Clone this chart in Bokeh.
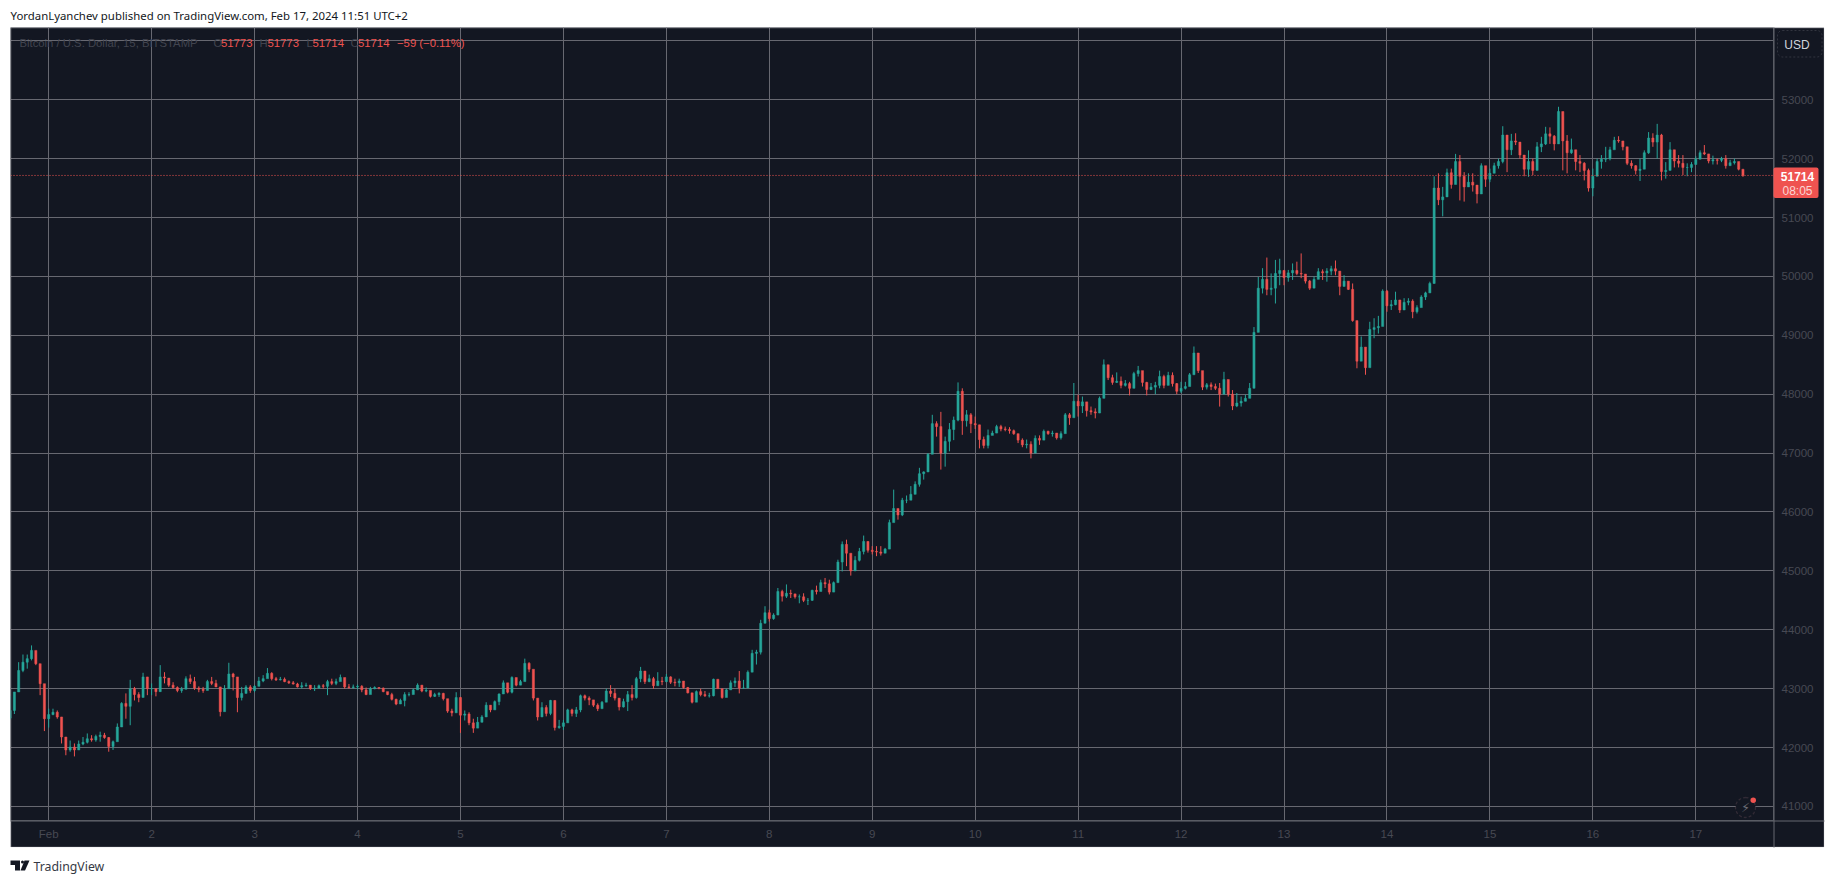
from bokeh.plotting import figure
from bokeh.layouts import column
from bokeh.embed import file_html
from bokeh.resources import INLINE
from bokeh.models import (ColumnDataSource, FixedTicker, Range1d, Span, Label,
                          BoxAnnotation, PolyAnnotation)

# hourly candles, first one at 15:00 on 31 Jan, day numbers are February dates
first_day = 0 + 15 / 24
first_open = 42500
day_ticks = list(range(1, 18))
day_labels = {d: str(d) for d in day_ticks}
day_labels[1] = "Feb"
price_ticks = list(range(41000, 55000, 1000))
price_labels = {p: str(p) for p in price_ticks}
price_labels[54000] = ""
last_price = 51714

closes = [
 42630,42945,43310,43450,43510,43650,43425,43085,42490,
 42560,42600,42520,42180,41960,42010,41960,42060,42090,42150,42130,42190,42210,42170,42020,42100,42350,42750,42700,43000,42900,42850,43200,43000,
 43000,42950,43200,43180,43060,43020,42970,42990,43170,43120,43010,42990,42970,43120,43090,43030,42610,43000,43250,43200,42850,42920,43030,42970,
 43040,43130,43170,43260,43170,43150,43160,43120,43100,43080,43030,43050,43060,43000,43010,43050,43040,43120,43090,43120,43190,43030,43020,43030,
 43040,42980,42900,43000,43020,43010,42950,42900,42820,42740,42800,42900,42900,42980,43060,42960,42970,42870,42900,42920,42830,42620,42590,42850,
 42550,42570,42420,42330,42430,42520,42720,42640,42780,42910,43100,42940,43190,43060,43120,43430,43330,42840,42520,42680,42580,42800,42340,42360,
 42420,42640,42580,42640,42880,42840,42810,42720,42660,42770,42960,42920,42840,42690,42780,42900,42850,43170,43300,43120,43170,43050,43130,43120,
 43200,43110,43100,43130,43020,42930,42770,42950,42900,42880,42880,43160,43000,42850,42980,43100,43130,43010,43010,43280,43600,43620,44110,44290,
 44190,44250,44650,44570,44620,44610,44560,44560,44500,44500,44670,44650,44800,44780,44640,44800,45150,45450,45300,45000,45180,45330,45500,45350,
 45330,45320,45300,45370,45820,46060,45950,46200,46200,46300,46470,46650,46680,46980,47500,47450,47000,47200,47400,47560,48050,47550,47650,47500,
 47480,47230,47130,47300,47340,47450,47410,47400,47380,47330,47220,47140,47150,47000,47250,47220,47370,47330,47340,47260,47330,47650,47600,47880,
 47800,47870,47720,47700,47680,47930,48500,48280,48200,48220,48150,48180,48100,48350,48400,48200,48080,48120,48150,48300,48150,48320,48180,48050,
 48100,48130,48330,48700,48400,48120,48160,48130,48100,48000,48250,48000,47800,47850,47880,47930,48100,49050,49800,49950,49780,49800,50050,50100,
 49980,50060,50100,50050,50040,49920,49800,49950,50080,50060,50090,50130,50090,49830,49920,49780,49250,48560,48800,48450,49100,49130,49150,49750,
 49500,49520,49600,49430,49560,49580,49400,49470,49650,49720,49880,51500,51300,51350,51760,51560,51950,51700,51520,51600,51550,51400,51880,51650,
 51750,51880,51950,52400,52150,52300,52280,52060,51820,51950,51800,52200,52250,52420,52380,52250,52800,52300,52100,52150,51950,51920,51800,51500,
 51700,51950,51990,52000,52150,52310,52300,52200,51920,51880,51800,51820,52100,52350,52280,52400,51780,51800,52150,51960,51920,51850,51850,51900,
 51990,52100,52080,51960,51980,51970,52000,51880,51930,51950,51820,51714,
]
highs = [
 42875,42940,43450,43580,43580,43735,43580,43395,42990,
 42660,42660,42630,42520,42040,42120,42070,42120,42180,42240,42210,42220,42270,42250,42180,42120,42410,42770,42920,43150,43030,42940,43270,43200,
 43090,43000,43400,43280,43170,43110,43040,43030,43210,43240,43200,43040,43030,43150,43200,43150,43030,43060,43440,43270,43140,43030,43060,43060,
 43060,43200,43230,43350,43280,43200,43200,43190,43140,43130,43100,43110,43100,43060,43060,43070,43080,43150,43170,43170,43240,43080,43080,43070,
 43070,43060,43020,43030,43040,43020,43020,42940,42930,42830,42830,42940,42940,43000,43090,43060,43020,42940,42930,42940,42930,42810,42660,42940,
 42860,42630,42600,42490,42520,42550,42770,42720,42800,42920,43140,43060,43210,43170,43150,43510,43450,43280,42800,42770,42720,42810,42800,42470,
 42470,42660,42660,42690,42900,42900,42870,42770,42750,42790,43000,43060,43000,42830,42830,42960,43060,43200,43370,43250,43240,43200,43280,43200,
 43250,43210,43170,43170,43110,43030,42890,42970,43000,42960,42930,43170,43150,42960,43000,43140,43190,43300,43150,43310,43660,43660,44170,44400,
 44340,44280,44710,44680,44770,44680,44600,44600,44620,44540,44680,44750,44850,44880,44850,44820,45190,45500,45530,45220,45250,45390,45600,45500,
 45420,45420,45420,45390,45870,46380,46040,46240,46280,46440,46520,46750,46690,47000,47650,47540,47700,47280,47510,47620,48200,48100,47730,47680,
 47620,47480,47280,47400,47380,47480,47480,47450,47440,47400,47310,47250,47230,47200,47300,47300,47400,47380,47380,47340,47370,47680,47680,48190,
 47990,47960,47820,47790,47760,47960,48590,48470,48330,48370,48300,48240,48210,48380,48480,48360,48210,48190,48210,48400,48330,48380,48370,48190,
 48210,48210,48360,48810,48550,48210,48190,48200,48180,48190,48380,48160,48070,48020,47960,47990,48190,49140,49990,50140,50320,50050,50280,50300,
 50110,50110,50220,50250,50390,50000,49940,50000,50140,50120,50140,50180,50270,50050,50020,49910,49880,49200,48980,48690,49230,49290,49330,49780,
 49770,49600,49740,49570,49630,49630,49610,49510,49680,49740,49910,51700,51750,51520,51830,51830,52080,52060,51770,51750,51750,51550,51920,51860,
 51830,51930,52000,52550,52200,52420,52430,52250,52060,52140,52000,52280,52370,52540,52530,52400,52880,52710,52400,52340,52080,52060,51940,51830,
 51830,52000,52060,52200,52200,52370,52380,52250,52170,51970,51890,52000,52140,52450,52430,52590,52420,51940,52280,52080,52060,52060,51920,51940,
 52040,52140,52230,52080,52050,52000,52030,52060,51980,52000,51920,51810,
]
lows = [
 42475,42570,43000,43280,43340,43480,43400,42890,42280,
 42340,42550,42490,42070,41870,41930,41850,41990,42040,42070,42100,42100,42100,42150,41930,41960,42150,42350,42490,42380,42800,42770,42860,42890,
 42890,42870,42950,43090,43030,43000,42940,42930,43000,43080,42980,42940,42930,43020,43060,43030,42530,42630,43030,42970,42600,42800,42940,42930,
 42940,43090,43110,43200,43140,43130,43140,43110,43080,43070,43020,43000,43030,42980,42960,43000,43000,42890,43060,43060,43140,43000,43000,43000,
 42990,42940,42890,42920,42990,42990,42940,42890,42800,42720,42770,42700,42870,42920,43020,42940,42940,42850,42860,42860,42800,42590,42530,42600,
 42250,42460,42380,42250,42360,42430,42550,42600,42660,42720,42920,42920,42920,43040,43060,43140,43280,42800,42460,42580,42530,42550,42290,42320,
 42300,42460,42530,42520,42600,42800,42720,42690,42620,42690,42800,42860,42800,42630,42680,42620,42800,42830,43110,43080,43110,43000,43080,43060,
 43110,43080,43040,43030,43000,42920,42750,42830,42870,42860,42850,42870,43030,42830,42860,43000,43030,42920,43000,43030,43310,43410,43580,44200,
 44140,44170,44340,44480,44540,44540,44530,44450,44470,44420,44490,44600,44680,44710,44600,44710,44880,44990,45080,44920,45020,45160,45280,45310,
 45280,45250,45260,45310,45390,45980,45870,45930,46150,46210,46320,46430,46550,46720,47140,47280,46720,46770,47030,47220,47540,47310,47450,47340,
 47410,47080,47080,47080,47310,47340,47370,47370,47330,47310,47170,47100,47080,46910,47080,47140,47280,47310,47280,47230,47230,47370,47480,47820,
 47620,47680,47620,47650,47590,47680,48130,48240,48160,48190,48100,48130,47980,48190,48300,48130,47980,48070,48000,48100,48100,48210,48130,48000,
 48020,48080,48160,48500,48360,48070,48080,48070,48070,47790,48130,47960,47730,47780,47790,47880,47960,48240,49460,49710,49680,49680,49540,49850,
 49850,49910,49940,50020,49970,49880,49770,49830,49970,49940,49910,50020,50020,49680,49830,49770,49230,48440,48640,48330,48500,48950,49030,49320,
 49400,49430,49510,49380,49460,49510,49290,49370,49540,49600,49770,49880,51210,51020,51460,51490,51630,51290,51270,51520,51440,51240,51600,51520,
 51600,51770,51830,51920,51770,52060,52230,52000,51700,51690,51720,52030,52110,52230,52250,52140,52310,51800,51750,52080,51800,51770,51630,51440,
 51360,51800,51830,51940,51970,52170,52270,52140,51890,51830,51730,51620,51860,52080,52200,52000,51630,51660,51920,51850,51850,51720,51700,51770,
 51930,52000,52060,51920,51900,51900,51940,51830,51890,51900,51800,51690,
]
assert len(closes) == len(highs) == len(lows), (len(closes), len(highs), len(lows))

BG, GRID, DIM = "#131722", "#676871", "#474953"
UP, DOWN = "#26a69a", "#ef5350"
FONT = "Liberation Sans"
LEGEND_DIM = "#41444f"

opens = [first_open] + closes[:-1]
xs = [first_day + i / 24 for i in range(len(closes))]
colors = [UP if c >= o else DOWN for o, c in zip(opens, closes)]
src = ColumnDataSource(dict(x=xs, open=opens, close=closes, high=highs, low=lows, color=colors))

PAGE_W, PAGE_H = 1835, 883
OX, OY = 10, 27  # page position of the main figure
MAIN_H = 820

p = figure(width=1814, height=MAIN_H, output_backend="svg", toolbar_location=None,
           x_range=Range1d(0.629, 17.755), y_range=Range1d(40762, 54226),
           y_axis_location="right", min_border_left=0, min_border_top=0,
           min_border_right=51, min_border_bottom=27, outline_line_color=None,
           background_fill_color=BG, border_fill_color=BG, margin=(OY, 0, 0, OX))

p.xaxis.ticker = FixedTicker(ticks=day_ticks)
p.yaxis.ticker = FixedTicker(ticks=price_ticks)
p.xaxis.major_label_overrides = day_labels
p.yaxis.major_label_overrides = price_labels
p.xgrid.ticker = FixedTicker(ticks=day_ticks)
p.ygrid.ticker = FixedTicker(ticks=price_ticks)
p.grid.grid_line_color = GRID
p.grid.grid_line_width = 1
for ax in (p.xaxis[0], p.yaxis[0]):
    ax.axis_line_color = None
    ax.major_tick_line_color = None
    ax.minor_tick_line_color = None
    ax.major_tick_out = 0
    ax.major_tick_in = 0
    ax.major_label_text_color = DIM
    ax.major_label_text_font = FONT
    ax.major_label_text_font_size = "11.5px"
p.xaxis[0].major_label_standoff = 7
p.yaxis[0].major_label_standoff = 8

# candles
p.segment("x", "high", "x", "low", color="color", line_width=1, source=src)
p.vbar("x", width=0.5 / 24, top="open", bottom="close", fill_color="color",
       line_color="color", line_width=0.5, source=src)

p.add_layout(Span(location=last_price, dimension="width", line_color=DOWN,
                  line_dash="1 2", line_width=1))

# transparent layer over the page holds the chrome: its units are page pixels
o = figure(width=PAGE_W, height=PAGE_H, output_backend="svg", toolbar_location=None,
           x_axis_type=None, y_axis_type=None, x_range=Range1d(0, PAGE_W), y_range=Range1d(PAGE_H, 0),
           min_border=0, outline_line_color=None, background_fill_alpha=0, border_fill_alpha=0,
           margin=(-(OY + MAIN_H), 0, 0, 0))
o.grid.visible = False


def box(l, t, r, b, fill=None, line=None, lw=1, dash="solid", radius=0):
    o.add_layout(BoxAnnotation(left=l, right=r, top=t, bottom=b,
                               fill_color=fill, fill_alpha=1 if fill else 0,
                               line_color=line, line_width=lw, line_dash=dash,
                               border_radius=radius, editable=False))


def label(txt, x, y, size, color, align="left", style="normal", font=FONT):
    o.add_layout(Label(x=x, y=y, text=txt, text_font=font, text_font_size=size, text_color=color,
                       text_align=align, text_baseline="middle", text_font_style=style))


# chart frame and separators
box(10.5, 27.5, 1823.5, 846.5, line="#b8bac3")
box(10, 820, 1824, 821, fill=GRID)
box(1773, 27, 1774, 847, fill=GRID)

# legend line
label("Bitcoin / U.S. Dollar, 15, BITSTAMP", 19, 42, "11.3px", LEGEND_DIM)
for t, x, c in [("O", 213, LEGEND_DIM), ("51773", 220.5, DOWN), ("H", 259, LEGEND_DIM), ("51773", 267, DOWN),
                ("L", 306, LEGEND_DIM), ("51714", 312, DOWN), ("C", 350, LEGEND_DIM), ("51714", 357.5, DOWN),
                ("\u221259 (\u22120.11%)", 396.5, DOWN)]:
    label(t, x, 42, "11.3px", c)

# price box, USD button, lightning icon
box(1773, 167, 1818, 197.5, fill=DOWN, radius=2)
label(str(last_price), 1797, 176, "12px", "#ffffff", "center", "bold")
label("08:05", 1797, 190, "12px", "#fbd5d4", "center")
box(1777, 30, 1821.5, 56.5, line="#7a7c86", dash="2 2", radius=5)
label("USD", 1796.5, 44, "12px", "#d1d4dc", "center")
box(1735, 797, 1755, 817, fill=BG, line="#7a5a62", dash="3 2", radius=10, lw=1.3)
label("\u26a1", 1745, 807, "13px", "#6a6c75", "center", font="DejaVu Sans")
box(1750, 797, 1755.5, 802.5, fill=DOWN, radius=3)

# header and footer
label("YordanLyanchev published on TradingView.com, Feb 17, 2024 11:51 UTC+2", 10, 15, "11.4px", "#131722", font="Noto Sans")
label("TradingView", 33, 866, "12.3px", "#363a45", font="Noto Sans")
o.add_layout(PolyAnnotation(xs=[10, 19.5, 19.5, 14.5, 14.5, 10], ys=[860, 860, 870, 870, 864.5, 864.5],
                            fill_color="#131722", fill_alpha=1, line_color=None))
o.add_layout(PolyAnnotation(xs=[24, 29, 24.5, 20], ys=[860, 860, 870, 870],
                            fill_color="#131722", fill_alpha=1, line_color=None))
box(20.5, 860, 23.5, 863, fill="#131722", radius=2)

page = column(column(p, spacing=0), column(o, spacing=0), spacing=0)
open("out.html", "w").write(file_html(page, INLINE))
